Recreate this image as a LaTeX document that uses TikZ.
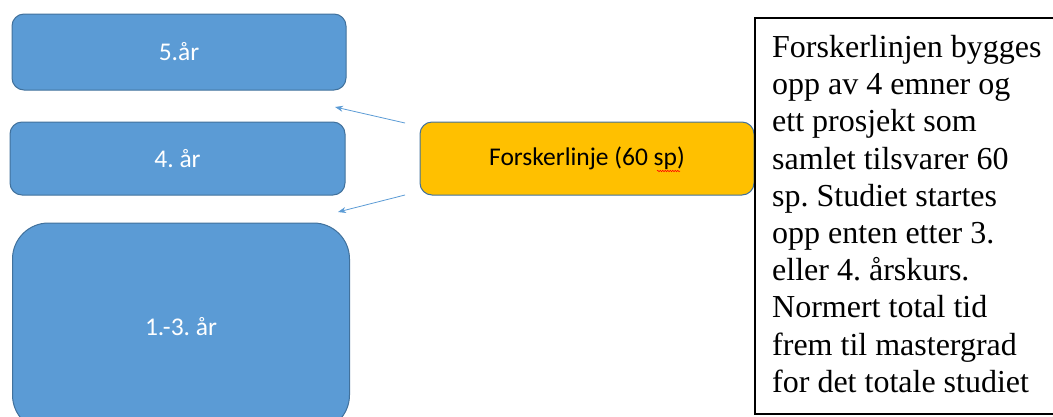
\documentclass[tikz,border=0pt]{standalone}
\usepackage{xcolor}
\usepackage{fontspec}
\setmainfont{Liberation Serif}
\newfontfamily\calibrifont{Carlito}
\usepackage{tikz}
\usetikzlibrary{positioning, arrows.meta, decorations.pathmorphing}
\definecolor{yearblue}{HTML}{5B9BD5}
\definecolor{yearedge}{HTML}{41719C}
\definecolor{lineorange}{HTML}{FFC000}
\frenchspacing

\begin{document}
\begin{tikzpicture}[x=1pt, y=-1pt,
		yearbox/.style={draw=yearedge, fill=yearblue, line width=1, rounded corners=12, inner sep=0, text=white, font=\calibrifont\fontsize{25.5}{30}\selectfont},
		linebox/.style={yearbox, fill=lineorange, text=black},
		notebox/.style={draw=black, fill=white, line width=1.5, inner sep=0, anchor=north west},
		hint/.style={draw=yearblue, line width=0.8, -{Stealth[length=8, width=6]}}]
		\useasboundingbox (0,0) rectangle (1053,416);
		\clip (0,0) rectangle (1053,416);
		\pgfmathsetmacro{\boxw}{334}
		\pgfmathsetmacro{\boxh}{73}
		
		\node[yearbox, minimum width=\boxw, minimum height=76] (fifth) at (179,52) {5.år};
		\node[yearbox, minimum width=335, minimum height=\boxh] (fourth) at (177.5,158.5) {4. år};
		\node[yearbox, rounded corners=36, minimum width=337, minimum height=208] (first) at (181,327) {1.-3. år};
		\node[linebox, minimum width=\boxw, minimum height=\boxh] (research) at (587,158.5) {Forskerlinje (60 sp)};
		
		%% spell check mark under "sp"
		\draw[red, line width=0.5, decorate, decoration={snake, amplitude=0.8, segment length=2.5}] (657,171) -- (680,171);
		
		\coordinate (upfrom) at (405,123);
		\coordinate (upto) at (335,107);
		\coordinate (downfrom) at (405,195);
		\coordinate (downto) at (338,212);
		\draw[hint] (upfrom) -- (upto);
		\draw[hint] (downfrom) -- (downto);
		
		\node[notebox, minimum width=360, minimum height=396] (note) at (754,17) {};
		\node[anchor=north west, inner sep=0, align=left, font=\fontsize{32}{37.2}\selectfont] (notetext) at (772,35)
			{Forskerlinjen bygges\\opp av 4 emner og\\ett prosjekt som\\samlet tilsvarer 60\\sp. Studiet startes\\opp enten etter 3.\\eller 4. årskurs.\\Normert total tid\\frem til mastergrad\\for det totale studiet};
\end{tikzpicture}
\end{document}
